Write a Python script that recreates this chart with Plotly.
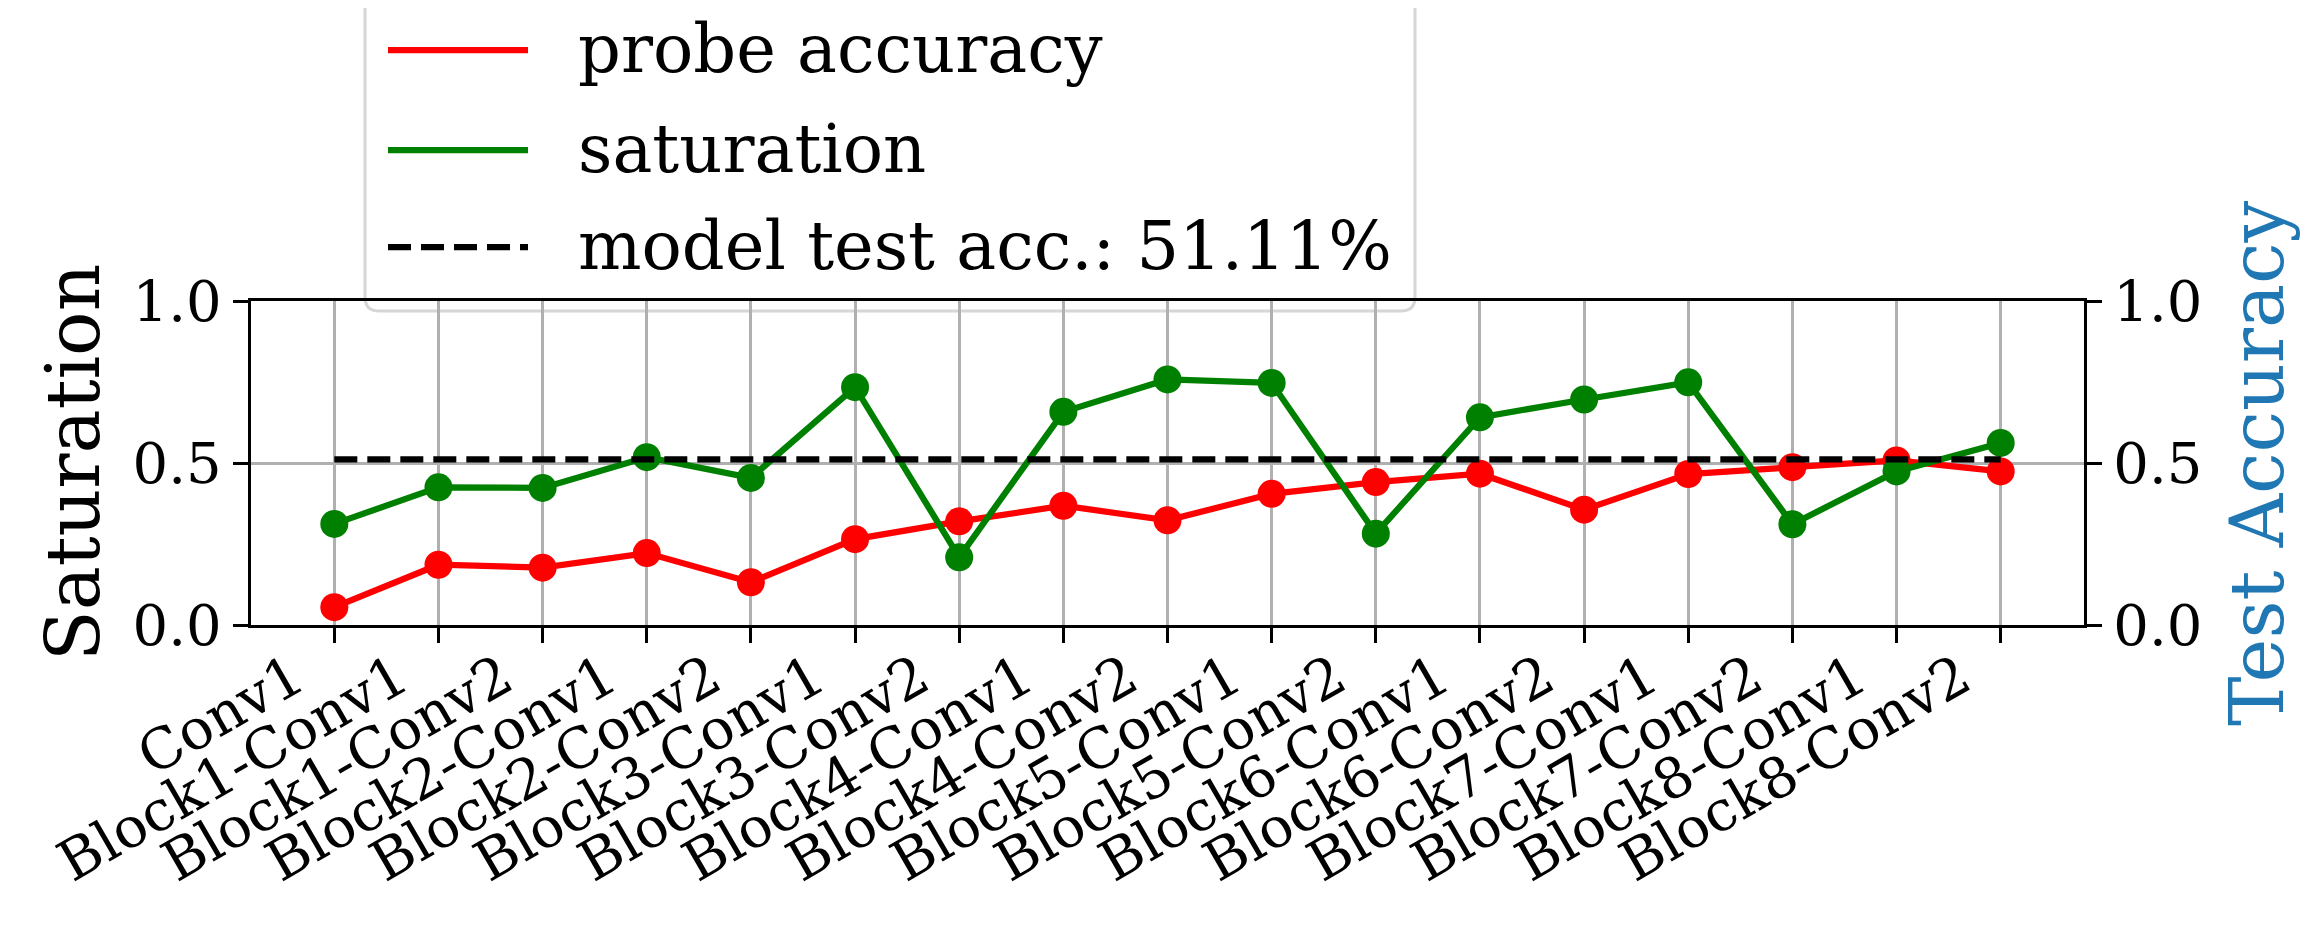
import plotly.graph_objects as go

# layer names along the x axis
layers = ['Conv1', 'Block1-Conv1', 'Block1-Conv2', 'Block2-Conv1', 'Block2-Conv2',
          'Block3-Conv1', 'Block3-Conv2', 'Block4-Conv1', 'Block4-Conv2', 'Block5-Conv1',
          'Block5-Conv2', 'Block6-Conv1', 'Block6-Conv2', 'Block7-Conv1', 'Block7-Conv2',
          'Block8-Conv1', 'Block8-Conv2']
# values
probeAccuracy = [0.055, 0.186, 0.177, 0.222, 0.132, 0.265, 0.320, 0.368, 0.323, 0.405,
                 0.441, 0.467, 0.356, 0.466, 0.487, 0.508, 0.474]
saturation = [0.312, 0.425, 0.423, 0.518, 0.454, 0.734, 0.209, 0.658, 0.758, 0.747,
              0.282, 0.641, 0.696, 0.749, 0.311, 0.474, 0.562]
testAcc = 0.5111
yTicks = [0.0, 0.5, 1.0]

W, H = 2315, 929
L, R, T, B = 243, 2076, 293, 617  # plot area in pixels
FONT = 'DejaVu Serif'
LW = 6.25


def px_x(x):
    return (x - L) / (R - L)


def px_y(y):
    return (B - y) / (B - T)


fig = go.Figure()
fig.add_trace(go.Scatter(x=layers, y=probeAccuracy, mode='lines+markers', name='probe accuracy',
                         line=dict(color='red', width=LW), marker=dict(color='red', size=28)))
fig.add_trace(go.Scatter(x=layers, y=saturation, mode='lines+markers', name='saturation',
                         line=dict(color='green', width=LW), marker=dict(color='green', size=28)))
fig.add_trace(go.Scatter(x=[layers[0], layers[-1]], y=[testAcc, testAcc], mode='lines',
                         name='model test acc.: {:.2f}%'.format(testAcc * 100), yaxis='y2',
                         line=dict(color='black', width=LW, dash='23px,10px')))

axisStyle = dict(ticks='outside', ticklen=15, tickwidth=3.3, tickcolor='black',
                 showline=True, linecolor='black', linewidth=3.3,
                 tickfont=dict(family=FONT, size=56, color='black'))

fig.update_layout(
    width=W, height=H, showlegend=False, template=None,
    paper_bgcolor='white', plot_bgcolor='rgba(0,0,0,0)',
    margin=dict(l=L, r=W - R, t=T, b=H - B, pad=0),
    xaxis=dict(type='category', range=[-0.8, 16.8], tickangle=-30, mirror=True,
               ticklabelshift=-40, ticklabelstandoff=-20,
               showgrid=True, gridcolor='#b0b0b0', gridwidth=3.3, **axisStyle),
    yaxis=dict(range=[0, 1], tickvals=yTicks, tickformat='.1f', zeroline=False,
               showgrid=True, gridcolor='#b0b0b0', gridwidth=3.3, **axisStyle),
    yaxis2=dict(range=[0, 1], tickvals=yTicks, tickformat='.1f', zeroline=False,
                overlaying='y', side='right', showgrid=False, **axisStyle),
)

# axis titles
fig.add_annotation(x=px_x(65), y=0.5, xref='paper', yref='paper', text='Saturation',
                   textangle=-90, showarrow=False, xanchor='center', yanchor='middle',
                   font=dict(family=FONT, size=74, color='black'))
fig.add_annotation(x=px_x(2249), y=0.5, xref='paper', yref='paper', text='Test Accuracy',
                   textangle=-90, showarrow=False, xanchor='center', yanchor='middle',
                   font=dict(family=FONT, size=74, color='#1f77b4'))

# legend box drawn by hand (matplotlib style)
bx0, bx1, by0, by1 = px_x(357), px_x(1407), px_y(-40), px_y(303)
rx, ry = 14 / (R - L), 14 / (B - T)
path = ('M {a},{b} L {c},{b} L {c},{d} Q {c},{e} {f},{e} L {g},{e} Q {a},{e} {a},{d} Z'
        .format(a=bx0, b=by0, c=bx1, d=by1 + ry, e=by1, f=bx1 - rx, g=bx0 + rx))
fig.add_shape(type='path', path=path, xref='paper', yref='paper', layer='below',
              fillcolor='rgba(255,255,255,0.8)', line=dict(color='#d6d6d6', width=3))

legendRows = [(42, 'red', 'solid'), (142, 'green', 'solid'), (239, 'black', '23px,10px')]
for (rowY, color, dash), trace in zip(legendRows, fig.data):
    fig.add_shape(type='line', xref='paper', yref='paper', x0=px_x(380), x1=px_x(520),
                  y0=px_y(rowY), y1=px_y(rowY), line=dict(color=color, width=LW, dash=dash))
    fig.add_annotation(x=px_x(568), y=px_y(rowY - 1), xref='paper', yref='paper', text=trace.name,
                       showarrow=False, xanchor='left', yanchor='middle',
                       font=dict(family=FONT, size=67, color='black'))

fig.write_html('out.html')
